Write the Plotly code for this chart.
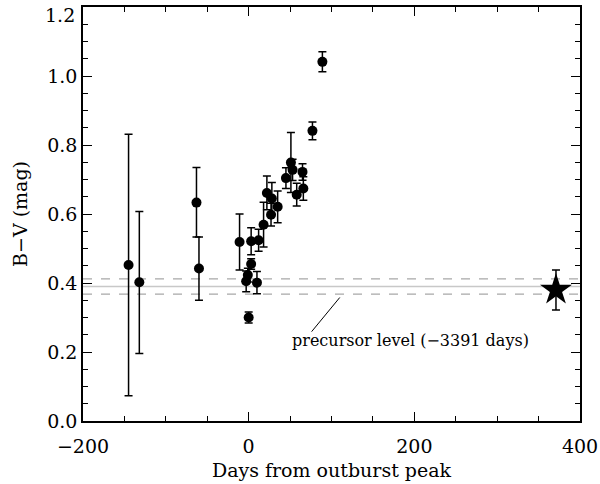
import plotly.graph_objects as go

# Data
days = [-145, -132, -63, -60, -11, -3, -1, 3, 0, 3, 10, 12, 18, 22, 27, 28, 35, 45, 51, 53, 58, 65, 66, 77, 89]
bv = [0.452, 0.402, 0.633, 0.442, 0.519, 0.405, 0.423, 0.455, 0.300, 0.521, 0.401, 0.524, 0.569,
      0.661, 0.598, 0.645, 0.621, 0.704, 0.749, 0.728, 0.656, 0.722, 0.674, 0.841, 1.041]
err_plus = [0.379, 0.205, 0.102, 0.091, 0.081, 0.030, 0.020, 0.015, 0.016, 0.039, 0.032, 0.032, 0.065,
            0.049, 0.033, 0.046, 0.046, 0.030, 0.087, 0.031, 0.033, 0.024, 0.034, 0.026, 0.029]
err_minus = [0.379, 0.206, 0.100, 0.092, 0.081, 0.030, 0.020, 0.015, 0.016, 0.039, 0.032, 0.032, 0.065,
             0.049, 0.033, 0.046, 0.046, 0.030, 0.087, 0.031, 0.033, 0.024, 0.034, 0.026, 0.029]

star_day = [371]
star_bv = [0.38]
star_err = [0.058]

precursor_level = 0.39
precursor_err = 0.022
x_range = [-200, 400]
y_range = [0.0, 1.2]
x_ticks = [-200, 0, 200, 400]
x_ticktext = ["\u2212200", "0", "200", "400"]
y_ticks = [0.0, 0.2, 0.4, 0.6, 0.8, 1.0, 1.2]
y_ticktext = ["0.0", "0.2", "0.4", "0.6", "0.8", "1.0", "1.2"]

FONT = "DejaVu Serif"

fig = go.Figure()

# precursor lines
fig.add_shape(type="line", xref="x", yref="y", x0=x_range[0], x1=x_range[1], layer="below",
              y0=precursor_level, y1=precursor_level, line=dict(color="#c8c8c8", width=1.5))
for s in (-1, 1):
    lv = precursor_level + s * precursor_err
    fig.add_shape(type="line", xref="x", yref="y", x0=x_range[0], x1=x_range[1], layer="below",
                  y0=lv, y1=lv, line=dict(color="#a8a8a8", width=1.2, dash="dash"))

fig.add_trace(go.Scatter(
    x=days, y=bv, mode="markers",
    marker=dict(color="black", size=10, symbol="circle"),
    error_y=dict(type="data", symmetric=False, array=err_plus, arrayminus=err_minus,
                 color="black", thickness=1.5, width=4),
    showlegend=False, hoverinfo="skip"))

fig.add_trace(go.Scatter(
    x=star_day, y=star_bv, mode="markers",
    marker=dict(color="black", size=24, symbol="star"),
    error_y=dict(type="data", array=star_err, color="black", thickness=1.5, width=4),
    showlegend=False, hoverinfo="skip"))

# annotation pointer line and text
fig.add_shape(type="line", xref="x", yref="y", x0=76, y0=0.259, x1=110, y1=0.358,
              line=dict(color="black", width=1))
fig.add_annotation(x=50, y=0.232, xref="x", yref="y", text="precursor level (\u22123391 days)",
                   showarrow=False, xanchor="left", yanchor="middle",
                   font=dict(family=FONT, size=16, color="black"))

# top y tick label drawn slightly lowered so it is not clipped by the page edge
y_ticktext_axis = y_ticktext[:-1] + [""]
fig.add_annotation(x=0, xref="paper", y=y_ticks[-1], yref="y", text=y_ticktext[-1],
                   showarrow=False, xanchor="right", yanchor="middle", xshift=-6, yshift=-8,
                   font=dict(family=FONT, size=19, color="black"))

axis_common = dict(showline=True, linecolor="black", linewidth=1.5, mirror="ticks",
                   ticks="inside", tickcolor="black", tickwidth=1, ticklen=9,
                   showgrid=False, zeroline=False, automargin=False,
                   ticklabeloverflow="allow",
                   tickfont=dict(family=FONT, size=19, color="black"))

fig.update_xaxes(range=x_range, tickmode="array", tickvals=x_ticks, ticktext=x_ticktext,
                 ticklabelstandoff=7,
                 title=dict(text="Days from outburst peak", font=dict(family=FONT, size=19, color="black"), standoff=8),
                 minor=dict(dtick=50, tick0=0, ticks="inside", ticklen=5, tickcolor="black", tickwidth=1),
                 **axis_common)
fig.update_yaxes(range=y_range, tickmode="array", tickvals=y_ticks, ticktext=y_ticktext_axis,
                 title=dict(text="B\u2212V (mag)", font=dict(family=FONT, size=19, color="black"), standoff=15),
                 minor=dict(dtick=0.05, tick0=0, ticks="inside", ticklen=5, tickcolor="black", tickwidth=1),
                 **axis_common)

fig.update_layout(width=600, height=484, margin=dict(l=83, r=20, t=7, b=63),
                  plot_bgcolor="white", paper_bgcolor="white")

fig.write_html("out.html", config={"displayModeBar": False},
               post_script="document.body.style.margin='0px';")
